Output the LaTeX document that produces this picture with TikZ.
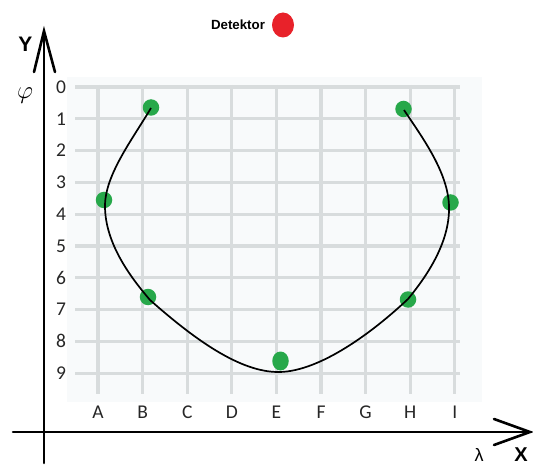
\documentclass[tikz,border=0pt]{standalone}
\usepackage{fontspec}
\usetikzlibrary{shapes.geometric}
\setmainfont{Carlito}
\newfontfamily\lib{Liberation Sans}
\definecolor{gridc}{HTML}{D8DCDD}
\definecolor{gridbg}{HTML}{F8FAFB}
\definecolor{dotg}{HTML}{27A84A}
\definecolor{dotr}{HTML}{E8222A}
\tikzset{
  gline/.style={draw=gridc,line width=3.3pt},
  axis/.style={line width=2.6pt,line cap=round,line join=miter},
  gdot/.style={circle,fill=dotg,inner sep=0pt,minimum size=16.5pt},
  lbl/.style={inner sep=0pt,font=\fontsize{19.5}{19.5}\selectfont,text=black!85},
}
\begin{document}
\begin{tikzpicture}[x=1pt,y=-1pt]
\useasboundingbox (0,0) rectangle (533,465);
% grid background
\fill[gridbg] (67,77) rectangle (482,402);
% horizontal lines and digit labels
\foreach \yy [count=\k from 0] in {87,118.8,150.6,182.4,214.2,246,277.8,309.6,341.4,373.2}{
  \draw[gline] (75,\yy) -- (460,\yy);
  \node[lbl] (r\k) at (61,\yy) {\k};
}
% vertical lines and letter labels
\foreach \xx/\L in {98/A,142.6/B,187.2/C,231.8/D,276.4/E,321/F,365.6/G,410.2/H,454.8/I}{
  \draw[gline] (\xx,85) -- (\xx,394);
  \node[lbl] (c\L) at (\xx,412) {\L};
}
% axes
\coordinate (yb) at (44,463);
\coordinate (yt) at (44,31);
\coordinate (xl) at (13,432);
\coordinate (xr) at (530,432);
\draw[axis] (yb) -- (yt);
\draw[axis] (34,72) -- (yt) -- (55,72);
\draw[axis] (xl) -- (xr);
\draw[axis] (494,419) -- (xr) -- (494,445);
\node[inner sep=0pt,font=\lib\bfseries\fontsize{21}{21}\selectfont] (Y) at (25.5,44) {Y};
\node[inner sep=0pt,font=\fontsize{24}{24}\selectfont] (phi) at (25,96) {$\varphi$};
\node[inner sep=0pt,font=\lib\bfseries\fontsize{20}{20}\selectfont] (X) at (521,455) {X};
\node[inner sep=0pt,font=\lib\fontsize{18}{18}\selectfont] (lam) at (479,455) {λ};
% detector
\node[inner sep=0pt,font=\lib\bfseries\fontsize{13.3}{13.3}\selectfont] (det) at (238,24.5) {Detektor};
\node[ellipse,fill=dotr,inner sep=0pt,minimum width=22pt,minimum height=25pt] (red) at (283,25) {};
% curve anchor points
\coordinate (p1) at (151,108);
\coordinate (p2) at (105,206);
\coordinate (p3) at (150,300);
\coordinate (p4) at (280,372);
\coordinate (p5) at (408,299);
\coordinate (p6) at (449,206);
\coordinate (p7) at (404,110);
% dots
\node[gdot] (dB1) at (151,107.5) {};
\node[gdot] (dH1) at (403.5,109) {};
\node[gdot] (dA4) at (104,200) {};
\node[gdot] (dI4) at (450.5,202.5) {};
\node[gdot] (dB7) at (148,297) {};
\node[gdot] (dH7) at (408,299.5) {};
\node[gdot,minimum width=16.5pt,minimum height=19pt,ellipse] (dE9) at (280.5,361) {};
\draw[line width=1.7pt] (p1) .. controls (132,140) and (105,175) .. (p2)
  .. controls (105,245) and (133,280) .. (p3)
  .. controls (193,338) and (240,373) .. (p4)
  .. controls (320,371) and (372,333) .. (p5)
  .. controls (432,270) and (450,238) .. (p6)
  .. controls (448,172) and (422,137) .. (p7);
\end{tikzpicture}
\end{document}
